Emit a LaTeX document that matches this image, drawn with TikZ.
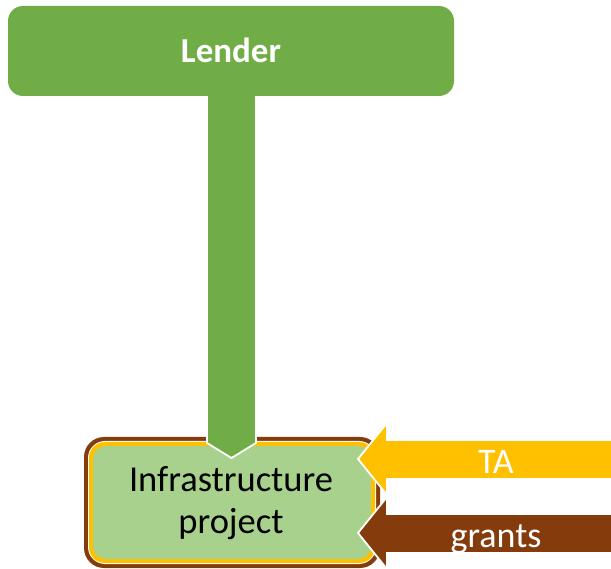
\documentclass[tikz,border=0pt]{standalone}
\usepackage{fontspec}
\setmainfont{Carlito}
\definecolor{lgreen}{HTML}{70AD47}
\definecolor{pgreen}{HTML}{A9D18E}
\definecolor{tayellow}{HTML}{FFC000}
\definecolor{gbrown}{HTML}{843C0C}
\tikzset{
  blockarrow/.style={draw=white, line width=1.8pt, line join=miter},
  lendbox/.style={fill=lgreen, draw=none, rounded corners=15pt},
  arrowtext/.style={text=white, font=\fontsize{36}{40}\selectfont, inner sep=0pt, anchor=base},
}
\begin{document}
\begin{tikzpicture}[x=1pt,y=-1pt]
\useasboundingbox (0,0) rectangle (611,569);
% project box: brown outer, white gap, yellow inner, light green fill
\fill[gbrown, rounded corners=20pt] (84,437) rectangle (380,568);
\fill[white, rounded corners=17pt] (88,441) rectangle (376,564);
\fill[tayellow, rounded corners=16pt] (89,442) rectangle (375,563);
\fill[pgreen, rounded corners=13pt] (93,446) rectangle (371,559);
\node[font=\fontsize{36.5}{42}\selectfont, align=center, inner sep=0pt] (proj) at (231,503.5) {Infrastructure\\project};
% green arrow from Lender to project
\coordinate (gtip) at (231.5,458);
\filldraw[lgreen, blockarrow] (207,90) -- (256,90) -- (256,443) -- (gtip) -- (207,443) -- cycle;
% Lender box
\node[lendbox, minimum width=446pt, minimum height=90pt] (lender) at (231,51) {};
\node[text=white, font=\bfseries\fontsize{35}{40}\selectfont, inner sep=0pt, anchor=base] (lendertext) at (231,63) {Lender};
% TA arrow
\coordinate (tatip) at (358,459);
\filldraw[tayellow, blockarrow] (613,440) -- (387,440) -- (387,423) -- (tatip) -- (387,495) -- (387,479) -- (613,479) -- cycle;
\node[arrowtext] (ta) at (496,473) {TA};
% grants arrow
\coordinate (grtip) at (358,533);
\filldraw[gbrown, blockarrow] (613,514) -- (387,514) -- (387,497) -- (grtip) -- (387,569) -- (387,553) -- (613,553) -- cycle;
\node[arrowtext] (gr) at (496,547) {grants};
\end{tikzpicture}
\end{document}
